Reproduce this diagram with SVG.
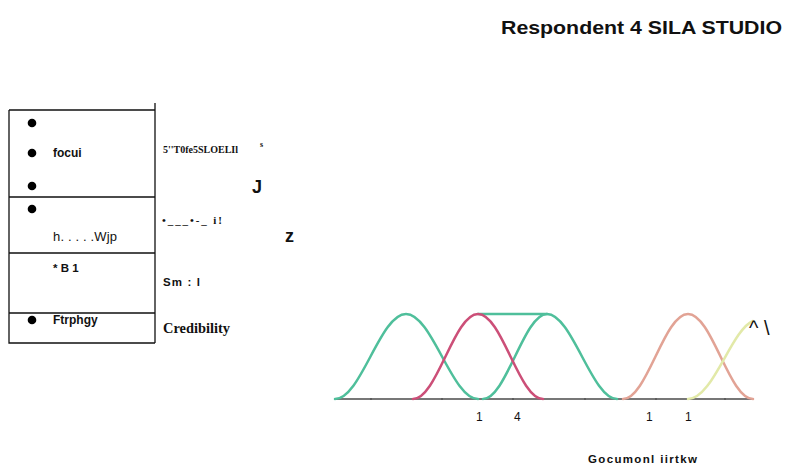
<svg xmlns="http://www.w3.org/2000/svg" width="785" height="466" viewBox="0 0 785 466">
<style>
.sb{font-family:"Liberation Sans",Arial,sans-serif;font-weight:bold;fill:#111}
.sr{font-family:"Liberation Sans",Arial,sans-serif;fill:#111}
.se{font-family:"Liberation Serif","Times New Roman",serif;font-weight:bold;fill:#111}
.ln{stroke:#111;stroke-width:1.3;fill:none}
.tl{fill:none;stroke:#4fbf9b;stroke-width:2.5;stroke-linecap:round}
.rd{fill:none;stroke:#cc4f78;stroke-width:2.5;stroke-linecap:round}
.or{fill:none;stroke:#e2a395;stroke-width:2.5;stroke-linecap:round}
.yl{fill:none;stroke:#e2e9a8;stroke-width:2.5;stroke-linecap:round}
</style>
<rect width="785" height="466" fill="#fff"/>
<text class="sb" x="501" y="34" font-size="18.5" textLength="281" lengthAdjust="spacingAndGlyphs">Respondent 4 SILA STUDIO</text>

<g id="table">
<path class="ln" d="M9,110 H155 M155,103 V343 M9,110 V343 H155 M9,197 H155 M9,253 H155 M9,313 H155"/>
</g>
<g id="row1">
<circle cx="32" cy="123" r="4.3"/>
<circle cx="32" cy="153" r="4.3"/>
<circle cx="32" cy="186" r="4.3"/>
<text class="sb" x="53" y="157" font-size="12">focui</text>
<text class="se" x="163" y="153" font-size="10.5" textLength="75" lengthAdjust="spacingAndGlyphs">5''T0fe5SLOELIl</text>
<text class="se" x="260" y="147" font-size="8" font-weight="normal">s</text>
<text class="sb" x="252" y="193" font-size="18">J</text>
</g>
<g id="row2">
<circle cx="32" cy="209" r="4.3"/>
<text class="sr" x="53" y="241" font-size="13" textLength="64">h. . . . .Wjp</text>
<text class="se" x="162" y="224" font-size="11" textLength="60">•___•-_ i!</text>
<text class="sb" x="285" y="242" font-size="18">z</text>
</g>
<g id="row3">
<text class="sb" x="53" y="272" font-size="11.5">* B 1</text>
<text class="sb" x="163" y="286" font-size="11.5" textLength="37">Sm : l</text>
</g>
<g id="row4">
<circle cx="32" cy="320" r="4.3"/>
<text class="sb" x="53" y="324" font-size="12">Ftrphgy</text>
<text class="se" x="163" y="333" font-size="14" textLength="67" lengthAdjust="spacingAndGlyphs">Credibility</text>
</g>

<g id="chart">
<path d="M335,399 H753" stroke="#777" stroke-width="2"/>
<path d="M371,398 v2 M442,398 v2 M513,398 v2 M585,398 v2 M656,398 v2 M725,398 v2" stroke="#555" stroke-width="1.5"/>
<path class="tl" d="M335,399 C361,399 380,314 406,314 C432,314 452,399 478,399"/>
<path class="tl" d="M478,314 H547"/>
<path class="tl" d="M483,399 C506,399 524,314 547,314 C572,314 592,399 617,399"/>
<path class="rd" d="M413,399 C437,399 454,314 478,314 C502,314 519,399 543,399"/>
<path class="or" d="M623,399 C647,399 664,314 688,314 C712,314 729,399 753,399"/>
<path class="yl" d="M688,399 C713,399 731,330 753,321"/>
<text class="sr" x="476" y="421" font-size="12">1</text>
<text class="sr" x="514" y="421" font-size="12">4</text>
<text class="sr" x="646" y="421" font-size="12">1</text>
<text class="sr" x="685" y="421" font-size="12">1</text>
<text class="sr" x="749" y="335" font-size="20">^ \</text>
<text class="sb" x="588" y="463" font-size="11.5" textLength="109">Gocumonl iirtkw</text>
</g>
</svg>
